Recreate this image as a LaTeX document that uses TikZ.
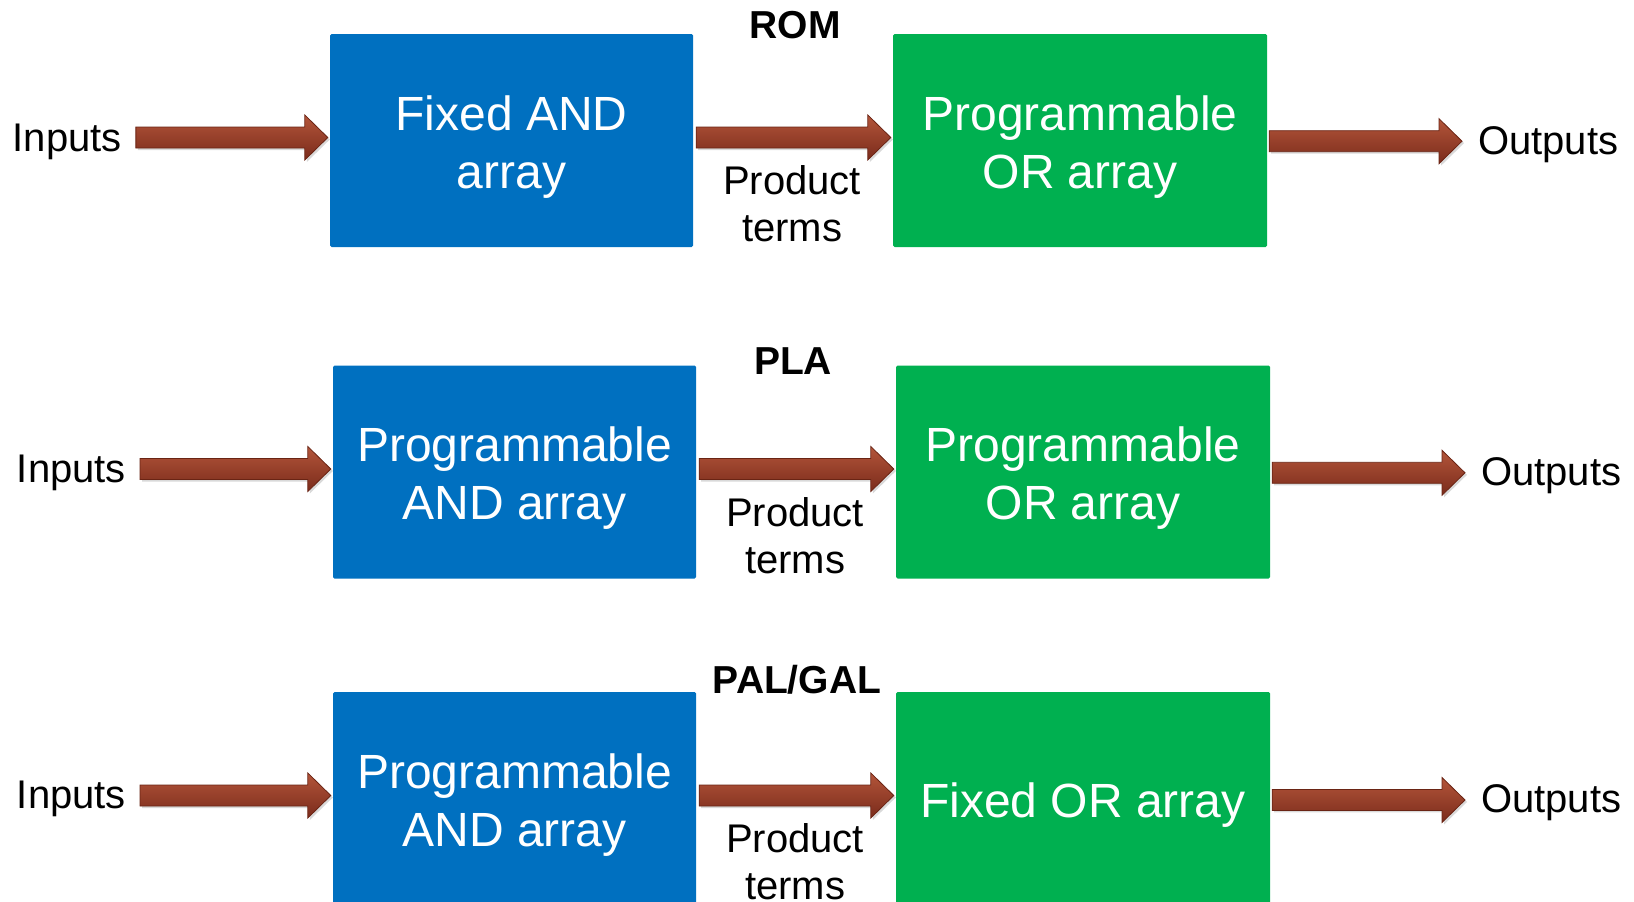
\documentclass[tikz,border=0pt]{standalone}
\usepackage{fontspec}
\setmainfont{Liberation Sans}
\usetikzlibrary{calc,shadows}
\definecolor{boxblue}{HTML}{0070C0}
\definecolor{boxgreen}{HTML}{00B050}
\definecolor{arrtop}{HTML}{B3553A}
\definecolor{arrmid}{HTML}{8A3321}
\definecolor{arrbot}{HTML}{7A2B1B}
\definecolor{arredge}{HTML}{6A2414}
\tikzset{
  bluebox/.style={fill=boxblue, rounded corners=1.5pt, inner sep=0pt, minimum width=363pt, minimum height=213pt},
  greenbox/.style={bluebox, fill=boxgreen, minimum width=374pt},
  boxtext/.style={inner sep=0pt, align=center, text=white, yshift=-6.5pt, font=\fontsize{48}{58}\selectfont},
  sidelabel/.style={inner sep=0pt, anchor=base west, font=\fontsize{40}{47}\selectfont},
  ptlabel/.style={inner sep=0pt, align=center, font=\fontsize{40}{47}\selectfont},
  title/.style={inner sep=0pt, anchor=base, font=\fontsize{39}{45}\selectfont\bfseries},
  arrowbody/.style={top color=arrtop, middle color=arrmid, bottom color=arrbot, draw=arredge, line width=0.8pt, line join=miter,
    drop shadow={shadow xshift=2pt, shadow yshift=-2pt, opacity=0.3}}
}
% #1 from node anchor, #2 to node anchor, #3 start gap, #4 end gap
\newcommand\fatarrow[4]{%
  \path[arrowbody] let \p1=(#1), \p2=(#2), \n1={\x1+#3}, \n2={\x2-#4}, \n3={\y2+3pt} in
    ({\n1*1pt},{(\n3+10.5)*1pt}) -- ({(\n2-23)*1pt},{(\n3+10.5)*1pt}) --
    ({(\n2-23)*1pt},{(\n3+22.5)*1pt}) -- ({\n2*1pt},{\n3*1pt}) --
    ({(\n2-23)*1pt},{(\n3-22.5)*1pt}) -- ({(\n2-23)*1pt},{(\n3-10.5)*1pt}) --
    ({\n1*1pt},{(\n3-10.5)*1pt}) -- cycle;}
\begin{document}
\begin{tikzpicture}[x=1pt,y=-1pt]
\useasboundingbox (0,0) rectangle (1634,902);
\clip (0,0) rectangle (1634,902);
% Row 1: ROM
\node[title] (t1) at (795,38.5) {ROM};
\node[bluebox, label={[boxtext]center:{Fixed AND\\array}}] (b1) at (511.5,140.5) {};
\node[greenbox, label={[boxtext]center:{Programmable\\OR array}}] (g1) at (1080,140.5) {};
\node[sidelabel] (in1) at (12.5,151) {Inputs};
\node[sidelabel] (out1) at (1478,154) {Outputs};
\node[ptlabel] (p1) at (792,204) {Product\\terms};
\fatarrow{in1.east}{b1.west}{14pt}{2pt}
\fatarrow{b1.east}{g1.west}{3pt}{2pt}
\fatarrow{g1.east}{out1.west}{2pt}{16pt}
% Row 2: PLA
\node[title] (t2) at (793,374) {PLA};
\node[bluebox, label={[boxtext]center:{Programmable\\AND array}}] (b2) at (514.5,472) {};
\node[greenbox, label={[boxtext]center:{Programmable\\OR array}}] (g2) at (1083,472) {};
\node[sidelabel] (in2) at (16.7,482.5) {Inputs};
\node[sidelabel] (out2) at (1481,485.6) {Outputs};
\node[ptlabel] (p2) at (795,535.5) {Product\\terms};
\fatarrow{in2.east}{b2.west}{14pt}{2pt}
\fatarrow{b2.east}{g2.west}{3pt}{2pt}
\fatarrow{g2.east}{out2.west}{2pt}{16pt}
% Row 3: PAL/GAL
\node[title] (t3) at (797,693) {PAL/GAL};
\node[bluebox, label={[boxtext]center:{Programmable\\AND array}}] (b3) at (514.5,798.5) {};
\node[greenbox, label={[boxtext]center:{Fixed OR array}}] (g3) at (1083,798.5) {};
\node[sidelabel] (in3) at (16.7,808.7) {Inputs};
\node[sidelabel] (out3) at (1481,812.8) {Outputs};
\node[ptlabel] (p3) at (795,862) {Product\\terms};
\fatarrow{in3.east}{b3.west}{14pt}{2pt}
\fatarrow{b3.east}{g3.west}{3pt}{2pt}
\fatarrow{g3.east}{out3.west}{2pt}{16pt}
\end{tikzpicture}
\end{document}
